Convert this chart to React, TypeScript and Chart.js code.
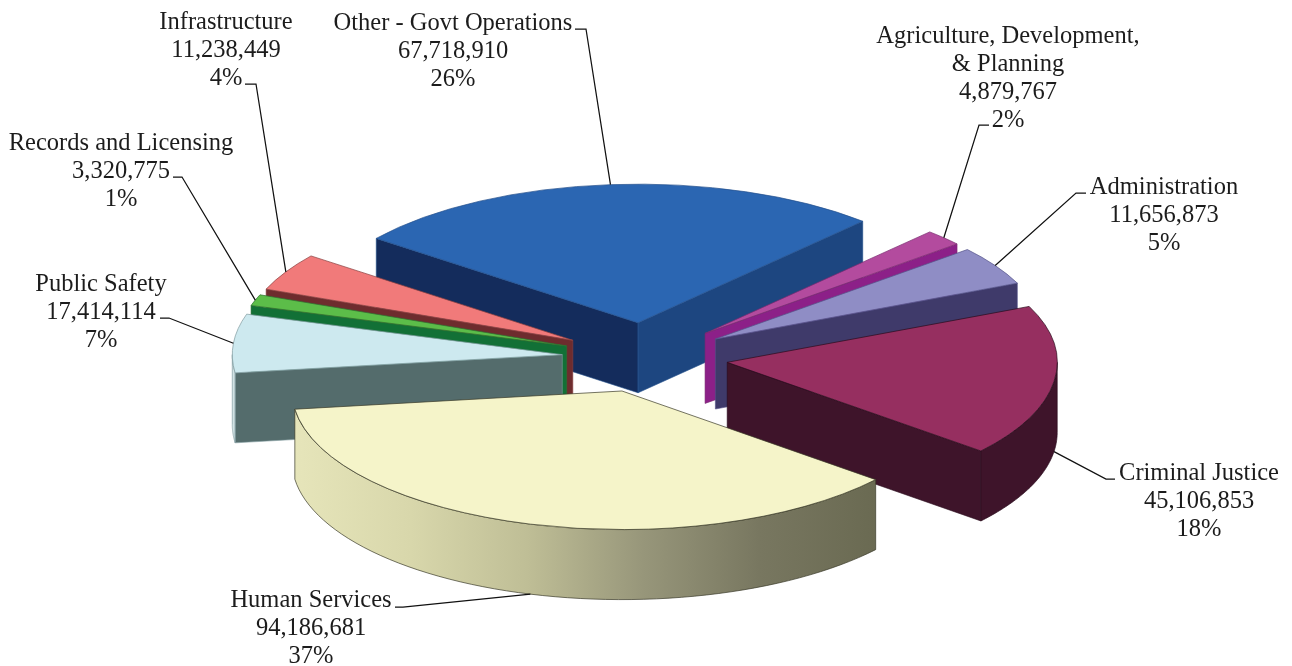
import React, { useEffect, useRef } from "react";
import { Chart, registerables } from "chart.js";

Chart.register(...registerables);

// Budget by function
const categories = [
  "Other - Govt Operations",
  "Agriculture, Development,\n& Planning",
  "Administration",
  "Criminal Justice",
  "Human Services",
  "Public Safety",
  "Records and Licensing",
  "Infrastructure",
];
const amounts = [67718910, 4879767, 11656873, 45106853, 94186681, 17414114, 3320775, 11238449];
const percents = [26, 2, 5, 18, 37, 7, 1, 4];

// Slice colours: top face, side walls
const topColors = ["#2b66b2", "#b34b9e", "#8f8dc5", "#962f60", "#f5f4c9", "#cde9ef", "#5cbd49", "#f17a7a"];
const edgeColors = ["#24508c", "#7a2a70", "#55538a", "#2a0c1c", "#3a3a28", "#7f9a9e", "#2e7030", "#8a4040"];
const startWallColors = ["#142c5c", "#8c2088", "#3f3a6a", "#3e142a", "#6a6a52", "#546c6c", "#127036", "#6e2c2e"];
const endWallColors = ["#1d4680", "#8c2088", "#3f3a6a", "#3e142a", "#6a6a52", "#546c6c", "#127036", "#6e2c2e"];
const outerWallStops: string[][] = [
  ["#1d4680", "#1d4680"],
  ["#8c2088", "#8c2088"],
  ["#3f3a6a", "#3f3a6a"],
  ["#3e142a", "#3e142a"],
  ["#e6e5ba", "#d8d7ab", "#bfbe96", "#97967a", "#787760", "#6a6a52"],
  ["#e0eef0", "#c0d4d6"],
  ["#127036", "#127036"],
  ["#6e2c2e", "#6e2c2e"],
];

// Back-to-front paint order of the exploded slices
const paintOrder = [0, 7, 6, 5, 1, 2, 3, 4];

// Label blocks: centre x, centre y of the first line
const labelCenters = [
  [453, 24], [1008, 37], [1164, 188], [1199, 474], [311, 601], [101, 285], [121, 144], [226, 23],
];
// Leader lines: text side point then elbow; the last point comes from the slice
const leaderStarts = [
  [[575, 29], [586, 29]],
  [[989, 125], [979, 125]],
  [[1086, 193], [1076, 193]],
  [[1115, 479], [1106, 479]],
  [[395, 607], [403, 607]],
  [[160, 318], [169, 318]],
  [[173, 177], [182, 177]],
  [[245, 84], [256, 84]],
];

const TILT = 0.42;
const DEPTH = 70;
const EXPLODE = 83;
const FONT = '24.5px "Liberation Serif"';
const LINE_GAP = 28;

function sliceGeometry(arc: any) {
  const half = (arc.startAngle + arc.endAngle) / 2;
  return {
    half,
    radius: arc.outerRadius,
    shiftX: Math.cos(half) * EXPLODE,
    shiftY: Math.sin(half) * EXPLODE,
    apexX: arc.x + Math.cos(half) * EXPLODE,
    apexY: arc.y + Math.sin(half) * EXPLODE,
  };
}

const pie3d = {
  id: "pie3d",
  beforeDatasetsDraw(chart: any) {
    const ctx: CanvasRenderingContext2D = chart.ctx;
    const meta = chart.getDatasetMeta(0);
    const cy = meta.data[0].y;
    const screenY = (y: number) => cy + (y - cy) * TILT;

    const wall = (x0: number, y0: number, x1: number, y1: number, fill: string, stroke: string) => {
      ctx.beginPath();
      ctx.moveTo(x0, screenY(y0));
      ctx.lineTo(x1, screenY(y1));
      ctx.lineTo(x1, screenY(y1) + DEPTH);
      ctx.lineTo(x0, screenY(y0) + DEPTH);
      ctx.closePath();
      ctx.fillStyle = fill;
      ctx.fill();
      ctx.strokeStyle = stroke;
      ctx.lineWidth = 0.6;
      ctx.stroke();
    };

    for (const i of paintOrder) {
      const arc = meta.data[i];
      const g = sliceGeometry(arc);
      const pointOn = (a: number) => [g.apexX + Math.cos(a) * g.radius, g.apexY + Math.sin(a) * g.radius];

      // Radial walls facing the viewer
      if (Math.sin(arc.startAngle - Math.PI / 2) > 0) {
        const [px, py] = pointOn(arc.startAngle);
        wall(g.apexX, g.apexY, px, py, startWallColors[i], edgeColors[i]);
      }
      if (Math.sin(arc.endAngle + Math.PI / 2) > 0) {
        const [px, py] = pointOn(arc.endAngle);
        wall(g.apexX, g.apexY, px, py, endWallColors[i], edgeColors[i]);
      }

      // Curved rim: only the part on the near half of the circle shows
      const twoPi = Math.PI * 2;
      const turn = Math.floor(arc.startAngle / twoPi) * twoPi;
      const a0 = arc.startAngle - turn;
      const a1 = arc.endAngle - turn;
      for (const near of [0, twoPi]) {
        const from = Math.max(a0, near);
        const to = Math.min(a1, near + Math.PI);
        if (to <= from) continue;
        const gradient = ctx.createLinearGradient(g.apexX - g.radius, 0, g.apexX + g.radius, 0);
        const stops = outerWallStops[i];
        const [sx0] = pointOn(to);
        const [sx1] = pointOn(from);
        const span = Math.max(1, sx1 - sx0);
        const full = 2 * g.radius;
        stops.forEach((c, n) => {
          const x = sx0 + (span * n) / (stops.length - 1);
          gradient.addColorStop(Math.min(1, Math.max(0, (x - (g.apexX - g.radius)) / full)), c);
        });
        ctx.beginPath();
        const steps = 60;
        for (let s = 0; s <= steps; s++) {
          const [px, py] = pointOn(from + ((to - from) * s) / steps);
          if (s === 0) ctx.moveTo(px, screenY(py));
          else ctx.lineTo(px, screenY(py));
        }
        for (let s = steps; s >= 0; s--) {
          const [px, py] = pointOn(from + ((to - from) * s) / steps);
          ctx.lineTo(px, screenY(py) + DEPTH);
        }
        ctx.closePath();
        ctx.fillStyle = gradient;
        ctx.fill();
        ctx.strokeStyle = edgeColors[i];
        ctx.lineWidth = 0.7;
        ctx.stroke();
      }

      // Top face: the library's own arc, pushed out and flattened onto the tilted plane
      ctx.save();
      ctx.translate(0, cy);
      ctx.scale(1, TILT);
      ctx.translate(0, -cy);
      ctx.translate(g.shiftX, g.shiftY);
      arc.draw(ctx);
      ctx.restore();
    }
    return false;
  },
  afterDraw(chart: any) {
    const ctx: CanvasRenderingContext2D = chart.ctx;
    const meta = chart.getDatasetMeta(0);
    const cy = meta.data[0].y;
    ctx.save();

    // Leader lines end on the slice's mid angle
    ctx.strokeStyle = "#111111";
    ctx.lineWidth = 1.25;
    meta.data.forEach((arc: any, i: number) => {
      const g = sliceGeometry(arc);
      const ex = g.apexX + Math.cos(g.half) * g.radius;
      const py = g.apexY + Math.sin(g.half) * g.radius;
      const ey = cy + (py - cy) * TILT + (Math.sin(g.half) > 0 ? DEPTH : 0);
      const pts = leaderStarts[i];
      ctx.beginPath();
      ctx.moveTo(pts[0][0], pts[0][1]);
      ctx.lineTo(pts[1][0], pts[1][1]);
      ctx.lineTo(ex, ey);
      ctx.stroke();
    });

    // Three-part labels: name, amount, share
    ctx.font = FONT;
    ctx.fillStyle = "#1c1c1c";
    ctx.textAlign = "center";
    ctx.textBaseline = "middle";
    categories.forEach((name, i) => {
      const lines = [...name.split("\n"), amounts[i].toLocaleString("en-US"), `${percents[i]}%`];
      const [cx, top] = labelCenters[i];
      lines.forEach((line, n) => ctx.fillText(line, cx, top + n * LINE_GAP));
    });
    ctx.restore();
  },
};

export default function App() {
  const ref = useRef<HTMLCanvasElement>(null);

  useEffect(() => {
    const chart = new Chart(ref.current as HTMLCanvasElement, {
      type: "pie",
      data: {
        labels: categories,
        datasets: [
          {
            data: amounts,
            backgroundColor: topColors,
            borderColor: edgeColors,
            borderWidth: 1,
            hoverOffset: 0,
            clip: false,
          } as any,
        ],
      },
      options: {
        animation: false,
        responsive: false,
        rotation: -52.5,
        radius: 330,
        layout: { padding: { left: 0, right: 2, top: 49, bottom: 0 } },
        plugins: { legend: { display: false }, tooltip: { enabled: false } },
        events: [],
      } as any,
      plugins: [pie3d as any],
    });
    return () => chart.destroy();
  }, []);

  return (
    <canvas
      ref={ref}
      width={1292}
      height={666}
      style={{ position: "fixed", left: 0, top: 0, width: 1292, height: 666, background: "#ffffff" }}
    />
  );
}
